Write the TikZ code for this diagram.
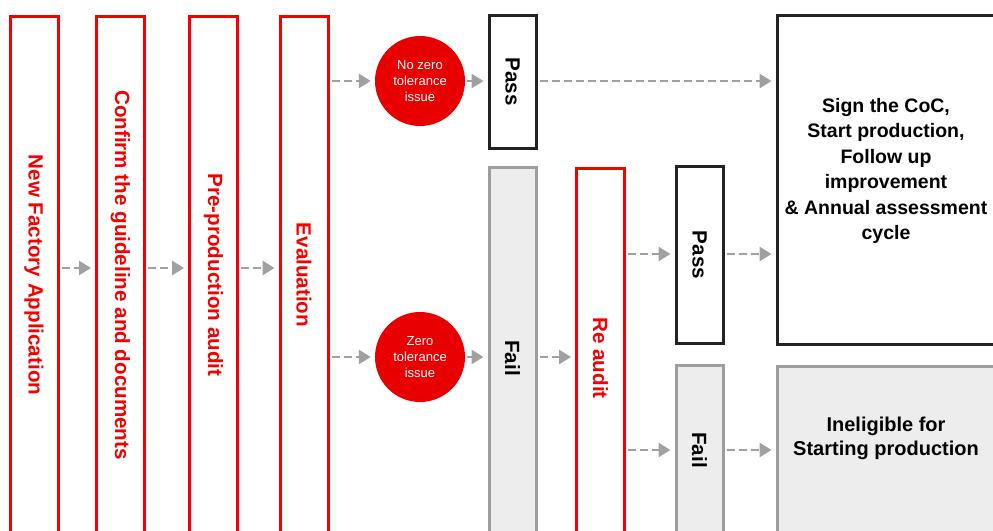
\documentclass[tikz,border=0pt]{standalone}
\usepackage{fontspec}
\setmainfont{Liberation Sans}
\usepackage{tikz}
\usetikzlibrary{arrows.meta}
\definecolor{boxred}{RGB}{245,0,0}
\definecolor{dotred}{RGB}{232,0,0}
\definecolor{failfill}{RGB}{237,237,237}
\definecolor{failline}{RGB}{158,158,158}
\definecolor{flowgrey}{RGB}{160,160,160}
\definecolor{passline}{RGB}{34,34,34}

\begin{document}
\begin{tikzpicture}[x=1pt, y=-1pt,
    stage/.style={draw=boxred, line width=3pt, minimum width=48pt, inner sep=0pt,
                  text=boxred, font=\fontsize{20.6}{24}\selectfont\bfseries},
    passbox/.style={draw=passline, line width=3pt, fill=white, minimum width=47pt, inner sep=0pt,
                    font=\fontsize{20.6}{24}\selectfont\bfseries},
    failbox/.style={draw=failline, line width=3pt, fill=failfill, minimum width=47pt, inner sep=0pt,
                    font=\fontsize{20.6}{24}\selectfont\bfseries},
    issue/.style={circle, fill=dotred, minimum size=90pt, inner sep=0pt, text=white,
                  align=center, font=\fontsize{13}{16}\selectfont},
    result/.style={align=center, font=\fontsize{19.5}{25.5}\selectfont\bfseries},
    flow/.style={draw=flowgrey, line width=2.6pt, dash pattern=on 8pt off 4pt,
                 shorten <=2pt, shorten >=4pt,
                 -{Triangle[length=12pt, width=14pt]}}]
  \useasboundingbox (0,0) rectangle (993,530);
  \clip (0,0) rectangle (993,530);

  % --- main stages ----------------------------------------------------------
  \node[stage, minimum height=518pt] (apply) at (34,275) {\rotatebox{-90}{New Factory Application}};
  \node[stage, minimum height=518pt] (guide) at (120.5,275) {\rotatebox{-90}{Confirm the guideline and documents}};
  \node[stage, minimum height=518pt] (preaudit) at (213.5,275) {\rotatebox{-90}{Pre-production audit}};
  \node[stage, minimum height=518pt] (evaluation) at (304,275) {\rotatebox{-90}{Evaluation}};
  \coordinate (stageline) at (0,268);

  % --- evaluation outcome ----------------------------------------------------
  \node[issue] (nozero) at (420,81) {No zero\\tolerance\\issue};
  \node[issue] (zero) at (420,357) {Zero\\tolerance\\issue};
  \node[passbox, minimum height=133pt] (pass) at (512.5,81.5) {\rotatebox{-90}{Pass}};
  \node[failbox, minimum height=382pt] (fail) at (512.5,358) {\rotatebox{-90}{Fail}};

  % --- re audit --------------------------------------------------------------
  \node[stage, minimum height=380pt] (reaudit) at (600.5,358) {\rotatebox{-90}{Re audit}};
  \node[passbox, minimum height=177pt] (repass) at (699.5,255) {\rotatebox{-90}{Pass}};
  \node[failbox, minimum height=170pt] (refail) at (699.5,450) {\rotatebox{-90}{Fail}};

  % --- final results ---------------------------------------------------------
  \node[draw=passline, line width=3pt, minimum width=219pt, minimum height=329pt] (sign) at (886.5,179.5) {};
  \node[result] (signtext) at (886,171) {Sign the CoC,\\Start production,\\Follow up\\improvement\\\& Annual assessment\\cycle};
  \node[draw=failline, fill=failfill, line width=3pt, minimum width=219pt, minimum height=180pt] (inelig) at (886.5,456) {};
  \node[result, font=\fontsize{20}{24}\selectfont\bfseries] (ineligtext) at (886,438) {Ineligible for\\Starting production};

  % --- connectors ------------------------------------------------------------
  \draw[flow] (apply.east |- stageline) -- (guide.west |- stageline);
  \draw[flow] (guide.east |- stageline) -- (preaudit.west |- stageline);
  \draw[flow] (preaudit.east |- stageline) -- (evaluation.west |- stageline);
  \draw[flow] (evaluation.east |- nozero) -- (nozero);
  \draw[flow] (evaluation.east |- zero) -- (zero);
  \draw[flow] (nozero) -- (pass.west |- nozero);
  \draw[flow] (zero) -- (fail.west |- zero);
  \draw[flow] (pass.east |- nozero) -- (sign.west |- nozero);
  \draw[flow] (fail.east |- zero) -- (reaudit.west |- zero);
  \draw[flow] (reaudit.east |- 0,254) -- (repass.west |- 0,254);
  \draw[flow] (repass.east |- 0,254) -- (sign.west |- 0,254);
  \draw[flow] (reaudit.east |- refail) -- (refail);
  \draw[flow] (refail) -- (inelig.west |- refail);
\end{tikzpicture}
\end{document}
